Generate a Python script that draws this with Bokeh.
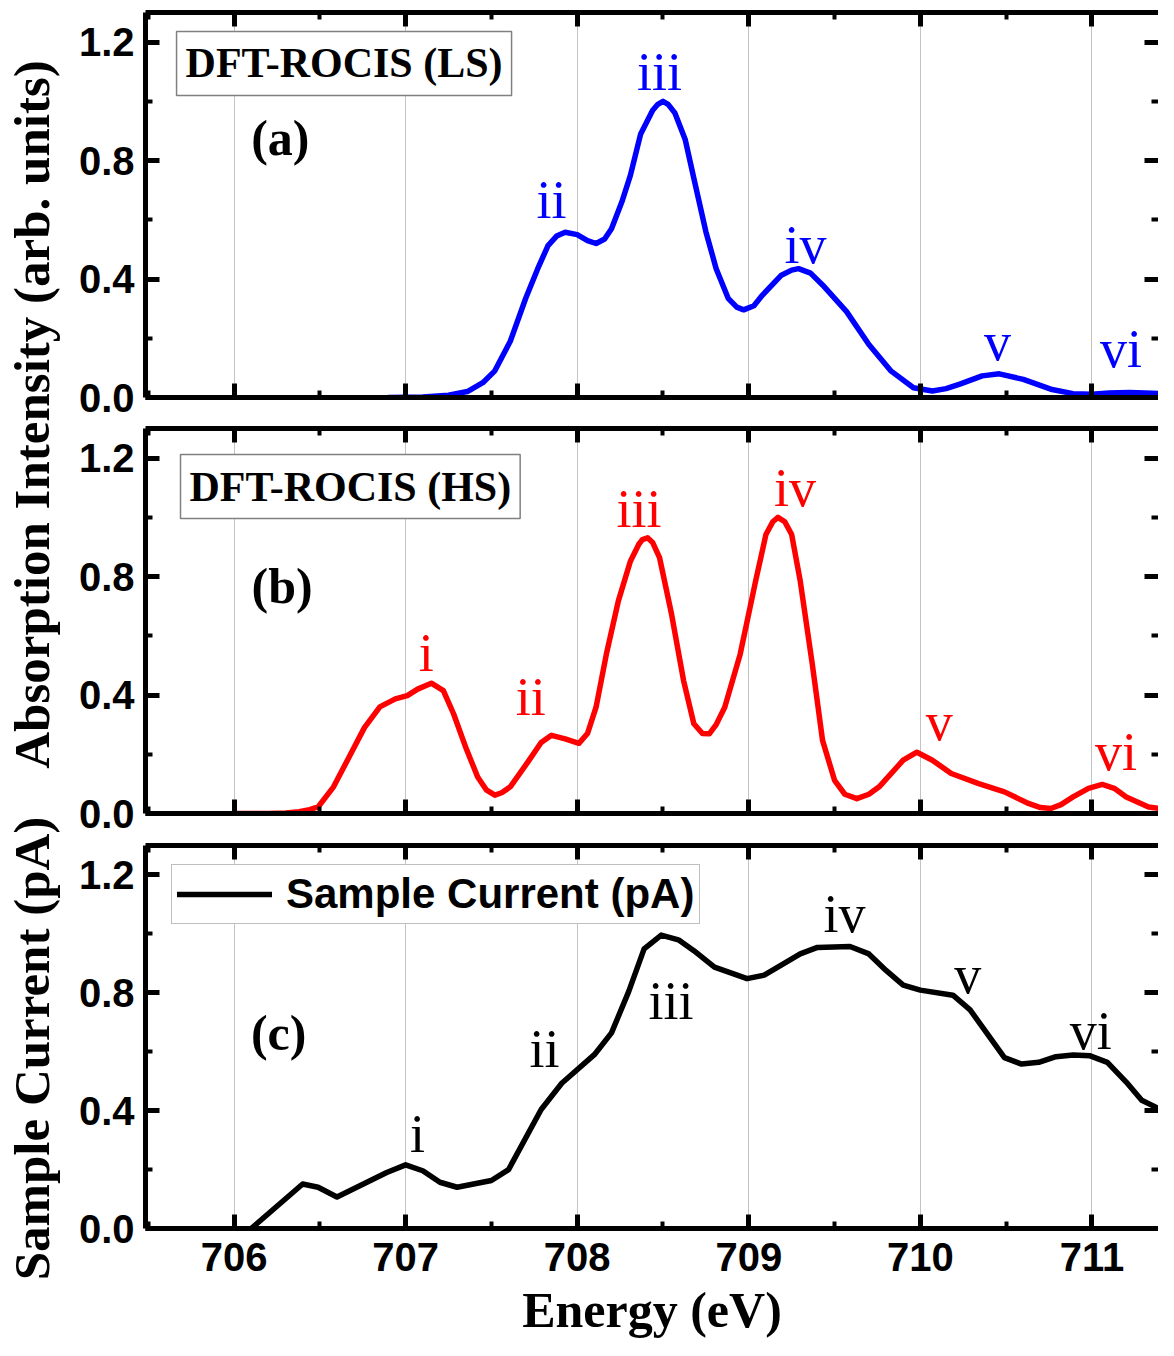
from math import pi
from bokeh.plotting import figure
from bokeh.models import (Range1d, LinearAxis, FixedTicker, Grid, Label, Legend, LegendItem,
                          PrintfTickFormatter, ColumnDataSource, CustomLabelingPolicy)
from bokeh.layouts import row, column
from bokeh.embed import file_html
from bokeh.resources import INLINE
from bokeh.core.properties import value

# ---------------- data ----------------
LS_E = [706.90, 707.10, 707.25, 707.36, 707.45, 707.52, 707.61, 707.70, 707.77, 707.83,
        707.88, 707.93, 708.00, 708.06, 708.11, 708.16, 708.20, 708.26, 708.31, 708.37,
        708.44, 708.47, 708.50, 708.53, 708.57, 708.63, 708.68, 708.75, 708.81, 708.88,
        708.93, 708.97, 709.03, 709.08, 709.19, 709.25, 709.29, 709.36, 709.43, 709.57,
        709.70, 709.83, 709.96, 710.07, 710.15, 710.23, 710.36, 710.46, 710.60, 710.76,
        710.89, 711.00, 711.10, 711.22, 711.35, 711.48]
LS_I = [0.0, 0.002, 0.008, 0.02, 0.05, 0.09, 0.19, 0.335, 0.435, 0.513,
        0.545, 0.558, 0.55, 0.53, 0.52, 0.535, 0.57, 0.66, 0.75, 0.89,
        0.97, 0.99, 1.0, 0.99, 0.96, 0.87, 0.74, 0.56, 0.435, 0.335,
        0.305, 0.296, 0.31, 0.346, 0.413, 0.43, 0.435, 0.42, 0.38, 0.29,
        0.179, 0.089, 0.033, 0.022, 0.03, 0.045, 0.073, 0.08, 0.061, 0.028,
        0.013, 0.011, 0.015, 0.017, 0.014, 0.011]

HS_E = [706.00, 706.20, 706.30, 706.38, 706.44, 706.49, 706.58, 706.67, 706.76, 706.85,
        706.94, 707.01, 707.07, 707.15, 707.22, 707.28, 707.35, 707.42, 707.47, 707.52,
        707.56, 707.61, 707.72, 707.79, 707.85, 707.93, 708.01, 708.06, 708.11, 708.17,
        708.24, 708.31, 708.36, 708.38, 708.41, 708.44, 708.48, 708.55, 708.62, 708.68,
        708.73, 708.77, 708.81, 708.86, 708.95, 709.04, 709.10, 709.14, 709.17, 709.21,
        709.25, 709.30, 709.37, 709.43, 709.50, 709.56, 709.63, 709.70, 709.76, 709.90,
        709.98, 710.07, 710.18, 710.34, 710.49, 710.63, 710.70, 710.76, 710.82, 710.89,
        710.98, 711.06, 711.13, 711.20, 711.33, 711.48]
HS_I = [0.0, 0.0, 0.002, 0.006, 0.013, 0.022, 0.09, 0.19, 0.29, 0.36,
        0.387, 0.398, 0.42, 0.44, 0.415, 0.336, 0.224, 0.123, 0.08, 0.062,
        0.07, 0.09, 0.18, 0.24, 0.264, 0.252, 0.237, 0.27, 0.359, 0.538,
        0.718, 0.852, 0.91, 0.925, 0.931, 0.915, 0.864, 0.673, 0.449, 0.303,
        0.27, 0.269, 0.30, 0.359, 0.538, 0.785, 0.942, 0.985, 1.0, 0.985,
        0.942, 0.785, 0.505, 0.247, 0.112, 0.065, 0.05, 0.065, 0.09, 0.18,
        0.207, 0.18, 0.135, 0.101, 0.073, 0.034, 0.02, 0.017, 0.03, 0.056,
        0.085, 0.098, 0.085, 0.056, 0.022, 0.011]

SC_E = [706.10, 706.40, 706.49, 706.60, 706.89, 707.00, 707.10, 707.20, 707.30, 707.50,
        707.60, 707.79, 707.91, 708.10, 708.20, 708.30, 708.39, 708.49, 708.59, 708.68,
        708.80, 708.99, 709.09, 709.30, 709.40, 709.59, 709.70, 709.80, 709.90, 710.00,
        710.19, 710.29, 710.49, 710.59, 710.69, 710.79, 710.89, 710.99, 711.09, 711.20,
        711.29, 711.39, 711.48]
SC_I = [0.0, 0.151, 0.14, 0.107, 0.19, 0.216, 0.196, 0.157, 0.14, 0.163,
        0.2, 0.404, 0.493, 0.59, 0.664, 0.804, 0.949, 0.996, 0.98, 0.943,
        0.887, 0.848, 0.86, 0.932, 0.954, 0.957, 0.932, 0.876, 0.826, 0.809,
        0.792, 0.742, 0.58, 0.558, 0.564, 0.583, 0.589, 0.586, 0.564, 0.497,
        0.435, 0.407, 0.39]

X_TICKS = [706, 707, 708, 709, 710, 711]
X_MINOR = [705.5, 706.5, 707.5, 708.5, 709.5, 710.5, 711.5]
Y_TICKS = [0.0, 0.4, 0.8, 1.2]
Y_MINOR = [0.2, 0.6, 1.0]

# peak annotations: text, energy, intensity at the text baseline
LS_PEAK_TEXT = ["ii", "iii", "iv", "v", "vi"]
LS_PEAK_E = [707.85, 708.48, 709.33, 710.45, 711.17]
LS_PEAK_Y = [0.605, 1.039, 0.455, 0.127, 0.104]

HS_PEAK_TEXT = ["i", "ii", "iii", "iv", "v", "vi"]
HS_PEAK_E = [707.12, 707.73, 708.36, 709.27, 710.11, 711.14]
HS_PEAK_Y = [0.479, 0.332, 0.967, 1.037, 0.248, 0.145]

SC_PEAK_TEXT = ["i", "ii", "iii", "iv", "v", "vi"]
SC_PEAK_E = [707.07, 707.81, 708.547, 709.558, 710.276, 710.993]
SC_PEAK_Y = [0.259, 0.549, 0.71, 1.005, 0.799, 0.61]

# ---------------- layout / style constants ----------------
X_START, X_END = 705.484, 711.388
FRAME_H = 385
PX_PER_UNIT = FRAME_H / 1.3
MAIN_W = 1088
TITLE_W = 70
TOTAL_H = 1340

SERIF = "Liberation Serif"
SANS = "Liberation Sans"

NUM_SIZE = 54
NUM_SHIFT = 0.337 * NUM_SIZE / PX_PER_UNIT      # baseline -> text-box middle
PANEL_SIZE = 50
PANEL_SHIFT = 0.337 * PANEL_SIZE / PX_PER_UNIT

HIDE_ALL = CustomLabelingPolicy(code="for (const i of indices) { indices.unset(i) }\nreturn indices")


def style_axis(ax, ticks, minor, fmt=None, show_labels=False, line=True):
    ax.ticker = FixedTicker(ticks=ticks, minor_ticks=minor)
    ax.axis_line_width = 5
    ax.axis_line_color = "black" if line else None
    ax.major_tick_line_width = 5
    ax.major_tick_line_color = "black"
    ax.major_tick_in = 14
    ax.major_tick_out = 0
    ax.minor_tick_line_width = 4
    ax.minor_tick_line_color = "black"
    ax.minor_tick_in = 7
    ax.minor_tick_out = 0
    if show_labels:
        ax.formatter = PrintfTickFormatter(format=fmt)
        ax.major_label_text_font = SANS
        ax.major_label_text_font_style = "bold"
        ax.major_label_text_font_size = "40px"
        ax.major_label_text_color = "black"
    else:
        ax.major_label_policy = HIDE_ALL
        ax.major_label_text_font_size = "0px"
        ax.major_label_standoff = 0


def make_panel(height, top, bottom, xlabels):
    p = figure(width=MAIN_W, height=height,
               x_range=Range1d(X_START, X_END), y_range=Range1d(0, 1.3),
               x_axis_type=None, y_axis_type=None,
               min_border_left=75, min_border_right=0,
               min_border_top=top, min_border_bottom=bottom,
               output_backend="svg", toolbar_location=None)
    p.outline_line_color = None
    p.background_fill_color = "white"

    left = LinearAxis()
    style_axis(left, Y_TICKS, Y_MINOR, "%.1f", True)
    left.major_label_standoff = 11
    p.add_layout(left, "left")

    right = LinearAxis()
    style_axis(right, Y_TICKS, Y_MINOR, line=False)
    p.add_layout(right, "right")

    top_ax = LinearAxis()
    style_axis(top_ax, X_TICKS, X_MINOR)
    p.add_layout(top_ax, "above")

    below = LinearAxis()
    if xlabels:
        style_axis(below, X_TICKS, X_MINOR, "%d", True)
        below.major_label_standoff = 14
        below.axis_label = "Energy (eV)"
        below.axis_label_text_font = SERIF
        below.axis_label_text_font_style = "bold"
        below.axis_label_text_font_size = "50px"
        below.axis_label_text_color = "black"
        below.axis_label_standoff = 8
    else:
        style_axis(below, X_TICKS, X_MINOR)
    p.add_layout(below, "below")

    grid = Grid(dimension=0, ticker=FixedTicker(ticks=X_TICKS),
                grid_line_color="#c4c4c4", grid_line_width=1)
    p.add_layout(grid)
    return p


def add_peaks(p, texts, es, ys, color):
    src = ColumnDataSource(dict(x=es, y=[v + NUM_SHIFT for v in ys], t=texts))
    p.text(x="x", y="y", text="t", source=src, text_color=color,
           text_font=value(SERIF), text_font_size=f"{NUM_SIZE}px",
           text_align="center", text_baseline="alphabetic")


def add_box_label(p, x, y, txt):
    p.add_layout(Label(x=x, y=y, text=txt, anchor="top_left",
                       text_font=SERIF, text_font_style="bold", text_font_size="42px",
                       text_color="black", padding=9,
                       border_line_color="#808080", border_line_width=1.5,
                       background_fill_color="white"))


def add_panel_label(p, x, y, txt):
    p.add_layout(Label(x=x, y=y + PANEL_SHIFT, text=txt, text_align="center",
                       text_baseline="alphabetic",
                       text_font=SERIF, text_font_style="bold",
                       text_font_size=f"{PANEL_SIZE}px", text_color="black"))


# ---------------- panel (a) ----------------
pa = make_panel(419, 12, 22, False)
pa.line(LS_E, LS_I, line_color="#0000ff", line_width=5.5, line_join="round", line_cap="round")
add_peaks(pa, LS_PEAK_TEXT, LS_PEAK_E, LS_PEAK_Y, "#0000ff")
add_box_label(pa, 705.665, 1.236, "DFT-ROCIS (LS)")
add_panel_label(pa, 706.27, 0.819, "(a)")

# ---------------- panel (b) ----------------
pb = make_panel(417, 9, 23, False)
pb.line(HS_E, HS_I, line_color="#ff0000", line_width=5.5, line_join="round", line_cap="round")
add_peaks(pb, HS_PEAK_TEXT, HS_PEAK_E, HS_PEAK_Y, "#ff0000")
add_box_label(pb, 705.688, 1.212, "DFT-ROCIS (HS)")
add_panel_label(pb, 706.28, 0.710, "(b)")

# ---------------- panel (c) ----------------
pc = make_panel(504, 9, 110, True)
rc = pc.line(SC_E, SC_I, line_color="black", line_width=5.5, line_join="round", line_cap="round")
add_peaks(pc, SC_PEAK_TEXT, SC_PEAK_E, SC_PEAK_Y, "black")
add_panel_label(pc, 706.26, 0.606, "(c)")
legend = Legend(items=[LegendItem(label="Sample Current (pA)", renderers=[rc])],
                location=(26, 304), orientation="vertical",
                label_text_font=SANS, label_text_font_style="bold",
                label_text_font_size="42px", label_text_color="black",
                glyph_width=95, glyph_height=30, label_standoff=14,
                padding=5, spacing=0, margin=0,
                border_line_color="#808080", border_line_width=1.5,
                background_fill_color="white", background_fill_alpha=1.0)
pc.add_layout(legend)

# ---------------- y-axis titles (one tall strip, so they can cross panel edges) ----------------
t = figure(width=TITLE_W, height=TOTAL_H, x_range=Range1d(0, TITLE_W),
           y_range=Range1d(0, TOTAL_H), x_axis_type=None, y_axis_type=None,
           min_border=0, output_backend="svg", toolbar_location=None)
t.outline_line_color = None
t.xgrid.visible = False
t.ygrid.visible = False
for ty, txt in [(926, "Absorption Intensity (arb. units)"), (292, "Sample Current (pA)")]:
    t.add_layout(Label(x=31.5, y=ty, text=txt, angle=pi / 2,
                       text_align="center", text_baseline="alphabetic",
                       text_font=SERIF, text_font_style="bold", text_font_size="51px",
                       text_color="black"))

layout = row(t, column(pa, pb, pc))

open("out.html", "w").write(file_html(layout, INLINE))
